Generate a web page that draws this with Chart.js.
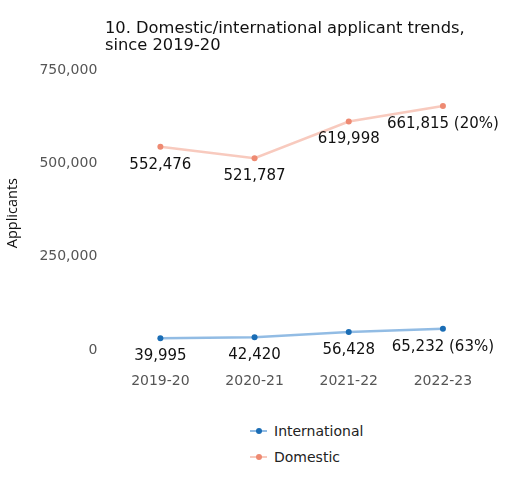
<!DOCTYPE html>
<html>
<head>
<meta charset="utf-8">
<script src="https://cdn.jsdelivr.net/npm/chart.js@4"></script>
<style>
  body { margin: 0; background: #fff; font-family: "DejaVu Sans", sans-serif; }
  #wrap { position: relative; width: 518px; height: 482px; }
  #chart { position: absolute; left: 0; top: 0; }
  #legend { position: absolute; left: 250px; top: 418px; font-size: 14px; color: #222; }
  .item { display: flex; align-items: center; height: 26px; }
  .mark { position: relative; width: 17px; height: 10px; margin-right: 7px; }
  .mark .ln { position: absolute; left: 0; right: 0; top: 4px; height: 2px; }
  .mark .dt { position: absolute; left: 5.5px; top: 2px; width: 6px; height: 6px; border-radius: 50%; }
</style>
</head>
<body>
<div id="wrap">
  <canvas id="chart" width="518" height="410"></canvas>
  <div id="legend"></div>
</div>
<script>
const years = ['2019-20', '2020-21', '2021-22', '2022-23'];
const international = [39995, 42420, 56428, 65232];
const domestic = [552476, 521787, 619998, 661815];
const intlChange = [null, null, null, '63%'];
const domChange = [null, null, null, '20%'];
const yTicks = [0, 250000, 500000, 750000];

const fmt = v => v.toLocaleString('en-US');

// value labels under each point
const pointLabels = {
  id: 'pointLabels',
  afterDatasetsDraw(chart) {
    const ctx = chart.ctx;
    ctx.save();
    ctx.font = '15px "DejaVu Sans"';
    ctx.fillStyle = '#111';
    ctx.textAlign = 'center';
    ctx.textBaseline = 'middle';
    chart.data.datasets.forEach((ds, i) => {
      chart.getDatasetMeta(i).data.forEach((pt, j) => {
        let txt = fmt(ds.data[j]);
        if (ds.notes[j]) txt += ' (' + ds.notes[j] + ')';
        ctx.fillText(txt, pt.x, pt.y + 18);
      });
    });
    ctx.restore();
  }
};

// left aligned two-line title
const leftTitle = {
  id: 'leftTitle',
  afterDraw(chart) {
    const ctx = chart.ctx;
    ctx.save();
    ctx.font = '16.3px "DejaVu Sans"';
    ctx.fillStyle = '#111';
    ctx.textBaseline = 'middle';
    ctx.fillText('10. Domestic/international applicant trends,', 105, 28.5);
    ctx.fillText('since 2019-20', 105, 45.5);
    ctx.restore();
  }
};

const chart = new Chart(document.getElementById('chart'), {
  type: 'line',
  data: {
    labels: years,
    datasets: [
      { label: 'International', data: international, notes: intlChange,
        borderColor: 'rgba(74,144,210,0.6)', backgroundColor: '#1a6db5',
        pointBackgroundColor: '#1a6db5', pointBorderWidth: 0, pointRadius: 3,
        borderWidth: 2.5, tension: 0 },
      { label: 'Domestic', data: domestic, notes: domChange,
        borderColor: 'rgba(242,150,125,0.5)', backgroundColor: '#ee8a72',
        pointBackgroundColor: '#ee8a72', pointBorderWidth: 0, pointRadius: 3,
        borderWidth: 2.5, tension: 0 }
    ]
  },
  options: {
    responsive: false,
    animation: false,
    layout: { padding: { top: 73, right: 28, bottom: 8, left: 4 } },
    plugins: { legend: { display: false }, tooltip: { enabled: false } },
    scales: {
      x: {
        offset: true,
        grid: { display: false }, border: { display: false },
        ticks: { color: '#555', font: { family: 'DejaVu Sans', size: 14 }, padding: 12 }
      },
      y: {
        min: 0, max: 750000,
        afterBuildTicks: axis => { axis.ticks = yTicks.map(v => ({ value: v })); },
        grid: { display: false }, border: { display: false },
        ticks: { color: '#555', font: { family: 'DejaVu Sans', size: 14 }, padding: 8, labelOffset: -3, callback: v => fmt(v) },
        title: { display: true, text: 'Applicants', color: '#111', font: { family: 'Open Sans', size: 14.5 }, padding: { top: 0, bottom: 10 } }
      }
    }
  },
  plugins: [pointLabels, leftTitle]
});

// legend below the chart
const legend = document.getElementById('legend');
chart.data.datasets.forEach(ds => {
  const row = document.createElement('div');
  row.className = 'item';
  row.innerHTML = '<span class="mark"><span class="ln" style="background:' + ds.borderColor +
    '"></span><span class="dt" style="background:' + ds.pointBackgroundColor + '"></span></span>' + ds.label;
  legend.appendChild(row);
});
</script>
</body>
</html>
